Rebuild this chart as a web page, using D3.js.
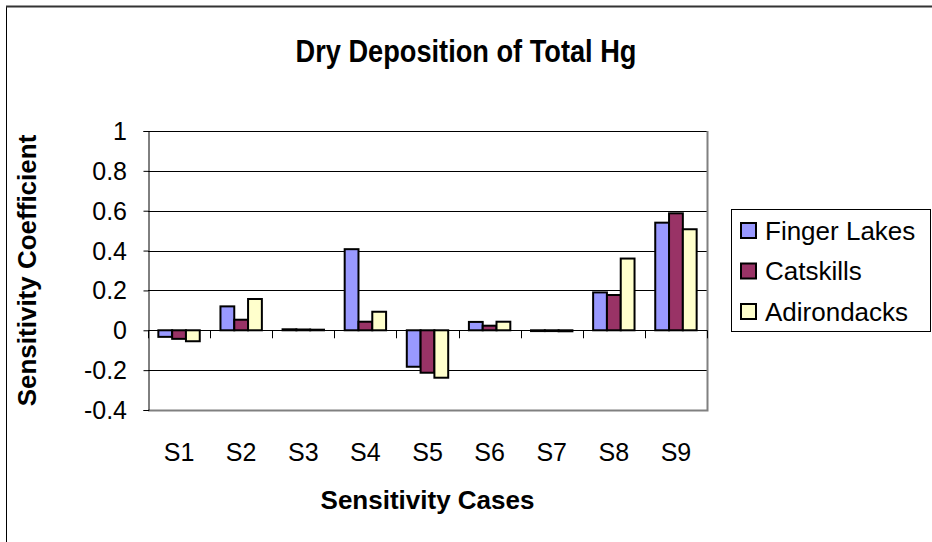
<!DOCTYPE html>
<html>
<head>
<meta charset="utf-8">
<script src="https://cdn.jsdelivr.net/npm/d3@7/dist/d3.min.js"></script>
<style>
  html, body { margin: 0; padding: 0; background: #fff; }
  svg { display: block; font-family: "Liberation Sans", Arial, sans-serif; }
</style>
</head>
<body>
<svg id="chart" width="932" height="542"></svg>
<script>
// Sensitivity coefficients of dry deposition of total Hg, per case and region
const cases = ["S1", "S2", "S3", "S4", "S5", "S6", "S7", "S8", "S9"];
const regions = ["Finger Lakes", "Catskills", "Adirondacks"];
const fingerLakes = [-0.033, 0.12, 0.005, 0.407, -0.183, 0.042, -0.004, 0.19, 0.54];
const catskills   = [-0.043, 0.053, 0.004, 0.043, -0.213, 0.023, -0.004, 0.177, 0.587];
const adirondacks = [-0.055, 0.157, 0.003, 0.093, -0.238, 0.043, -0.005, 0.36, 0.507];
const yTicks = [-0.4, -0.2, 0, 0.2, 0.4, 0.6, 0.8, 1];
const yTickLabels = ["-0.4", "-0.2", "0", "0.2", "0.4", "0.6", "0.8", "1"];

const seriesValues = [fingerLakes, catskills, adirondacks];
const colors = ["#9999FF", "#993366", "#FFFFCC"];

const svg = d3.select("#chart");

// chart frame
svg.append("rect")
  .attr("x", 6.5).attr("y", 6.5)
  .attr("width", 1000).attr("height", 1000)
  .attr("fill", "none").attr("stroke", "#000").attr("stroke-width", 1);
svg.append("line")
  .attr("x1", 6).attr("x2", 932).attr("y1", 6.5).attr("y2", 6.5)
  .attr("stroke", "#333").attr("stroke-width", 2);

const plot = { left: 148, right: 707, top: 131, bottom: 410 };

const x = d3.scaleBand().domain(cases).range([plot.left, plot.right]).padding(0);
const y = d3.scaleLinear().domain([-0.4, 1]).range([plot.bottom, plot.top]);

// bars fill 2/3 of each category slot (gap = 1.5 bar widths)
const groupW = x.bandwidth() / 1.5;
const xs = d3.scaleBand().domain(d3.range(regions.length)).range([0, groupW]).padding(0);

// text helper with optional horizontal scale and rotation
function label(g, txt, px, py, opts) {
  return g.append("text")
    .attr("transform", `translate(${px},${py}) scale(${opts.sx || 1},1)` + (opts.rotate ? ` rotate(${opts.rotate})` : ""))
    .attr("text-anchor", opts.anchor || "middle")
    .attr("font-size", opts.size)
    .attr("font-weight", opts.bold ? "bold" : "normal")
    .attr("fill", "#000")
    .text(txt);
}

// gridlines
svg.append("g").selectAll("line")
  .data(yTicks.filter(v => v > -0.4))
  .join("line")
  .attr("x1", plot.left).attr("x2", plot.right)
  .attr("y1", d => Math.round(y(d)) + 0.5).attr("y2", d => Math.round(y(d)) + 0.5)
  .attr("stroke", "#000").attr("stroke-width", 1);

// plot border (right and bottom)
svg.append("path")
  .attr("d", `M${plot.right + 0.5},${plot.top}V${plot.bottom + 0.5}H${plot.left}`)
  .attr("fill", "none").attr("stroke", "#808080").attr("stroke-width", 2);

// bars
const groups = svg.append("g").selectAll("g")
  .data(cases)
  .join("g")
  .attr("transform", d => `translate(${x(d) + (x.bandwidth() - groupW) / 2},0)`);

groups.selectAll("rect")
  .data((d, i) => seriesValues.map((vals, s) => ({ s, v: vals[i] })))
  .join("rect")
  .attr("x", d => xs(d.s))
  .attr("width", xs.bandwidth())
  .attr("y", d => y(Math.max(0, d.v)))
  .attr("height", d => Math.abs(y(d.v) - y(0)))
  .attr("fill", d => colors[d.s])
  .attr("stroke", "#000").attr("stroke-width", 2);

// category axis along zero
const xAxisG = svg.append("g");
xAxisG.append("line")
  .attr("x1", plot.left).attr("x2", plot.right)
  .attr("y1", Math.round(y(0)) + 0.5).attr("y2", Math.round(y(0)) + 0.5)
  .attr("stroke", "#000").attr("stroke-width", 1);
xAxisG.selectAll("line.tick")
  .data(cases.concat(["end"]))
  .join("line")
  .attr("class", "tick")
  .attr("x1", (d, i) => Math.round(plot.left + i * x.step()) + 0.5)
  .attr("x2", (d, i) => Math.round(plot.left + i * x.step()) + 0.5)
  .attr("y1", y(0)).attr("y2", y(0) + 8)
  .attr("stroke", "#000").attr("stroke-width", 1);

// value axis
const yAxis = d3.axisLeft(y).tickValues(yTicks).tickSize(5).tickFormat((d, i) => yTickLabels[i]);
const yAxisG = svg.append("g").attr("transform", `translate(${plot.left + 0.5},0)`).call(yAxis);
yAxisG.select(".domain").attr("stroke", "#000").attr("stroke-width", 1);
yAxisG.selectAll(".tick line").attr("stroke", "#000");
yAxisG.selectAll(".tick text").remove();
yTicks.forEach((v, i) => {
  label(svg, yTickLabels[i], 127, y(v) + 9, { size: 25, anchor: "end" });
});

// category labels
cases.forEach(c => {
  label(svg, c, x(c) + x.bandwidth() / 2, 461, { size: 25 });
});

// titles
label(svg, "Dry Deposition of Total Hg", 466, 62, { size: 32, bold: true, sx: 0.85 });
label(svg, "Sensitivity Cases", (plot.left + plot.right) / 2, 509, { size: 26, bold: true });
label(svg, "Sensitivity Coefficient", 36, (plot.top + plot.bottom) / 2, { size: 26, bold: true, rotate: -90 });

// legend
const lg = svg.append("g");
lg.append("rect")
  .attr("x", 731.5).attr("y", 209.5).attr("width", 199).attr("height", 122)
  .attr("fill", "#fff").attr("stroke", "#000").attr("stroke-width", 1);
regions.forEach((r, i) => {
  const cy = 230 + i * 40.5;
  lg.append("rect")
    .attr("x", 741).attr("y", cy - 7).attr("width", 15).attr("height", 15)
    .attr("fill", colors[i]).attr("stroke", "#000").attr("stroke-width", 2);
  label(lg, r, 765, cy + 9.5, { size: 26, anchor: "start" });
});
</script>
</body>
</html>
